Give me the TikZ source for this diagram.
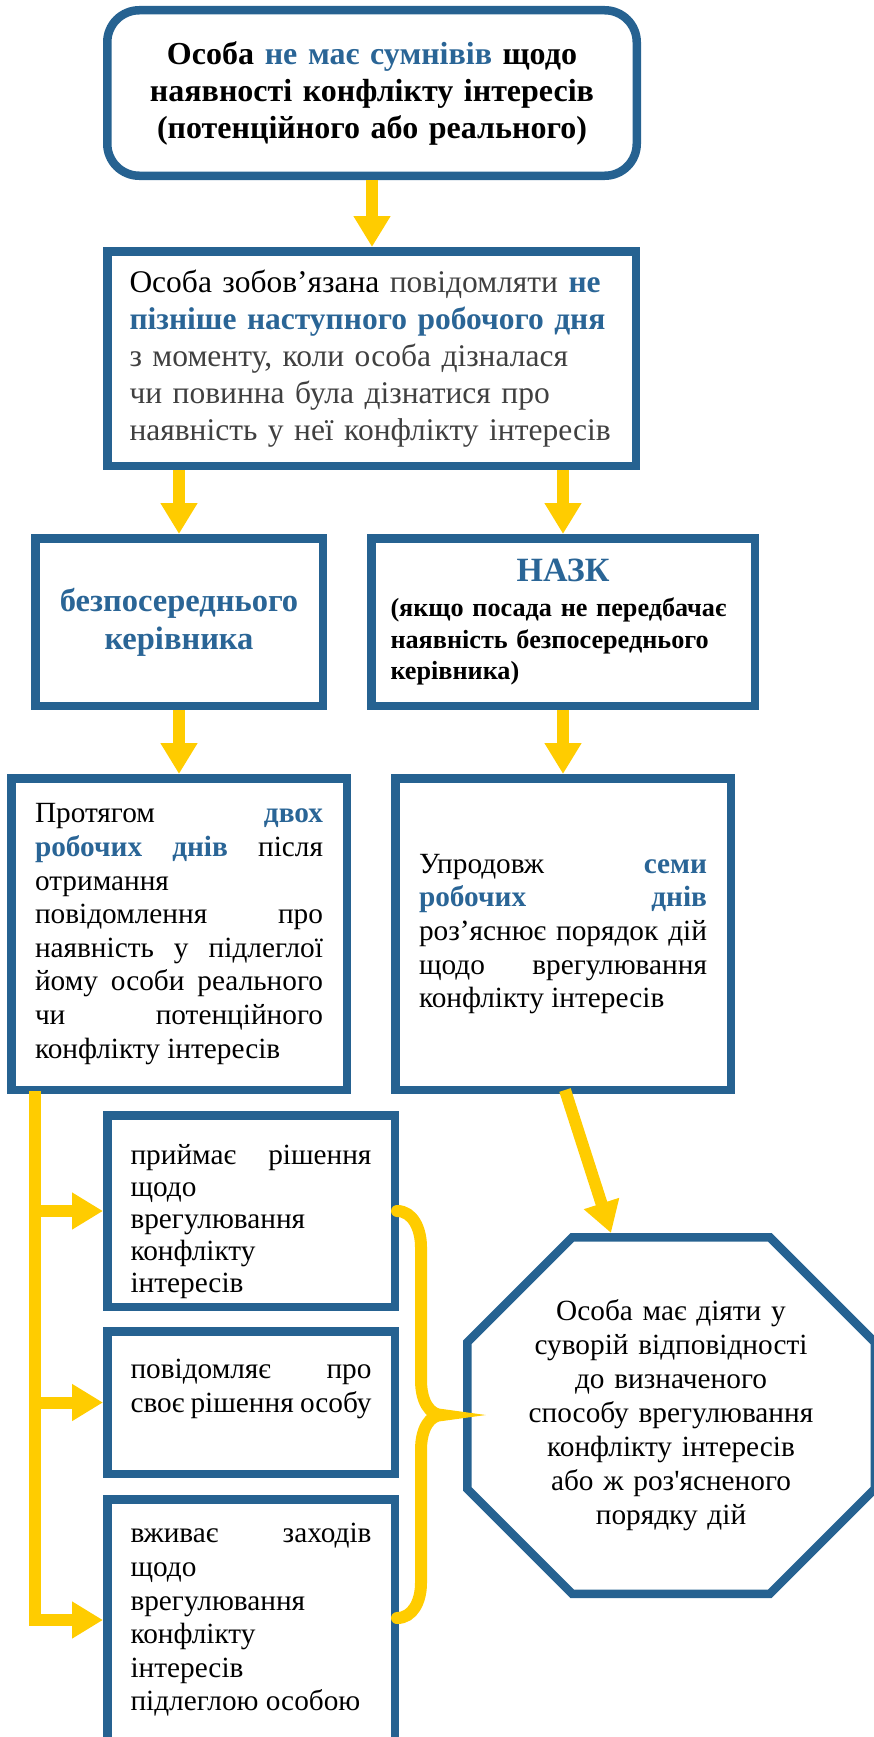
\documentclass[tikz,border=0pt]{standalone}
\usepackage{fontspec}
\setmainfont{Liberation Serif}
\usetikzlibrary{arrows.meta,calc}
\definecolor{frameblue}{RGB}{38,98,145}
\definecolor{textblue}{RGB}{42,101,150}
\definecolor{flowyellow}{RGB}{255,204,0}
\newcommand{\hl}[1]{\textbf{\textcolor{textblue}{#1}}}

\begin{document}
\begin{tikzpicture}[x=1pt,y=-1pt,
  box/.style={draw=frameblue, line width=8.5pt, rectangle, inner sep=0pt},
  plain/.style={font=\fontsize{29.3}{33.6}\selectfont, align=justify},
  flow/.style={draw=flowyellow, line width=12pt, -{Triangle[width=35pt,length=31pt]}},
  brace/.style={draw=flowyellow, line width=12pt, line cap=round}]
  \useasboundingbox (0,0) rectangle (873,1737);
  \tolerance=10000 \hbadness=10000

  % Define nodes
  \node[box, rounded corners=32pt, minimum width=529.5pt, minimum height=165.5pt,
        text width=510pt, align=center, font=\bfseries\fontsize{32}{37}\selectfont] (doubt) at (372,93)
       {Особа \textcolor{textblue}{не має сумнівів} щодо\\ наявності конфлікту інтересів\\ (потенційного або реального)};
  \node[box, minimum width=528.5pt, minimum height=214.5pt, text width=484pt, align=left,
        font=\fontsize{31.5}{37}\selectfont] (notify) at (371.5,358.5)
       {Особа зобов’язана \textcolor{black!75}{повідомляти} \hl{не}\\ \hl{пізніше наступного робочого дня}\\
        {\color{black!75}з моменту, коли особа дізналася\\ чи повинна була дізнатися про\\ наявність у неї конфлікту інтересів}};
  \node[box, minimum width=287.5pt, minimum height=167.5pt, text width=280pt, align=center,
        font=\bfseries\fontsize{32.5}{38}\selectfont, text=textblue] (head) at (179,622)
       {безпосереднього\\ керівника};
  \node[box, minimum width=383.5pt, minimum height=167.5pt, text width=345pt, align=left,
        font=\bfseries\fontsize{26.2}{31.5}\selectfont] (nazk) at (563,622)
       {\makebox[\linewidth]{\fontsize{34}{38}\selectfont\textcolor{textblue}{НАЗК}}\\[4pt]
        (якщо посада не передбачає\\ наявність безпосереднього\\ керівника)};
  \node[box, plain, minimum width=335.5pt, minimum height=311.5pt, text width=288pt] (twodays) at (179,934)
       {Протягом \hl{двох}\linebreak \hl{робочих днів} після\linebreak отримання\linebreak
        повідомлення про\linebreak наявність у підлеглої\linebreak йому особи реального\linebreak
        чи потенційного\linebreak конфлікту інтересів};
  \node[box, plain, minimum width=335.5pt, minimum height=311.5pt, text width=288pt] (sevendays) at (563,934)
       {Упродовж \hl{семи}\linebreak \hl{робочих днів}\linebreak роз’яснює порядок дій\linebreak
        щодо врегулювання\linebreak конфлікту інтересів};
  \node[box, plain, minimum width=287.5pt, minimum height=191.5pt, text width=241pt,
        font=\fontsize{29.3}{32}\selectfont] (decide) at (251,1211)
       {\rule{0pt}{42pt}приймає рішення\linebreak щодо\linebreak врегулювання\linebreak конфлікту\linebreak інтересів};
  \node[box, plain, minimum width=287.5pt, minimum height=142.5pt, text width=241pt] (inform) at (251,1402.5)
       {повідомляє про\linebreak своє рішення особу\par\mbox{}};
  \node[box, plain, minimum width=287.5pt, minimum height=241.5pt, text width=241pt] (measures) at (251,1620)
       {вживає заходів\linebreak щодо\linebreak врегулювання\linebreak конфлікту\linebreak інтересів\linebreak
        підлеглою особою};
  \node[minimum width=407.5pt, minimum height=356.5pt, text width=340pt, align=center,
        font=\fontsize{29.3}{34}\selectfont] (act) at (671,1415.5)
       {Особа має діяти у\\ суворій відповідності\\ до визначеного\\ способу врегулювання\\
        конфлікту інтересів\\ або ж роз\textquotesingle ясненого\\ порядку дій};
  \draw[frameblue, line width=8.5pt]
       ($(act.center)+(-98.75,-178.25)$) -- ($(act.center)+(98.75,-178.25)$)
    -- ($(act.center)+(203.75,-73.25)$) -- ($(act.center)+(203.75,73.25)$)
    -- ($(act.center)+(98.75,178.25)$) -- ($(act.center)+(-98.75,178.25)$)
    -- ($(act.center)+(-203.75,73.25)$) -- ($(act.center)+(-203.75,-73.25)$) -- cycle;
  \coordinate (actin) at ($(act.center)+(-60,-182.5)$);
  \coordinate (trunk) at ($(twodays.south west)+(28,-3)$);

  % Draw edges
  \draw[flow] (doubt.south) -- (doubt.south |- notify.north);
  \draw[flow] (notify.south -| head.north) -- (head.north);
  \draw[flow] (notify.south -| nazk.north) -- (nazk.north);
  \draw[flow] (head) -- (twodays);
  \draw[flow] (nazk) -- (sevendays);
  \draw[flow] ($(sevendays.south)+(2,-4)$) -- (actin);
  \draw[flow] (trunk) |- (measures.west);
  \draw[flow] (trunk |- decide.west) -- (decide.west);
  \draw[flow] (trunk |- inform.west) -- (inform.west);
  \draw[brace] (397,1211) .. controls (413,1211) and (421,1229) .. (421,1247) -- (421,1380)
    .. controls (421,1402) and (430,1415) .. (442,1415)
    .. controls (430,1415) and (421,1428) .. (421,1450) -- (421,1583)
    .. controls (421,1601) and (413,1618) .. (397,1618);
\end{tikzpicture}
\end{document}
